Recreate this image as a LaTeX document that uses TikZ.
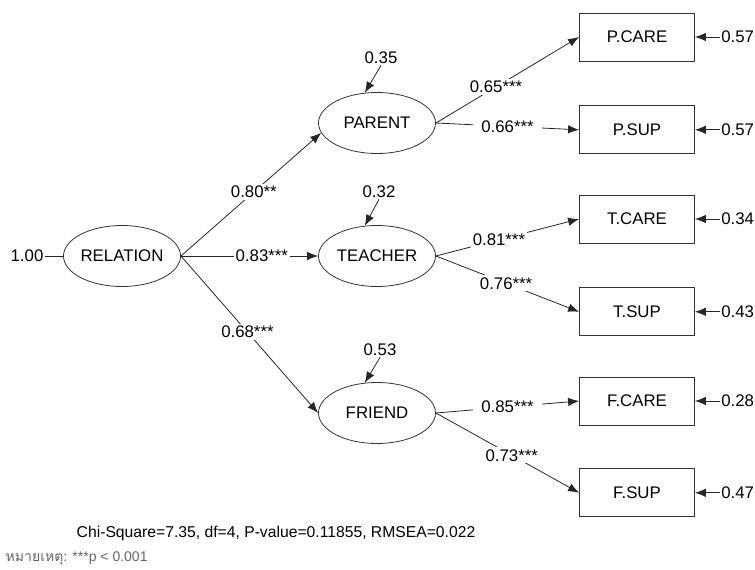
\documentclass[tikz,border=0pt]{standalone}
\usepackage{fontspec}
\setmainfont{Liberation Sans}
\newfontfamily\thaifont[Script=Thai]{Loma}
\usetikzlibrary{%
  arrows.meta,%
  shapes.geometric,% wg. ellipse
  positioning% wg. " of "
}

\begin{document}
\begin{tikzpicture}[x=1pt,y=-1pt,line width=0.8pt,font=\fontsize{16.8}{20}\selectfont]
       \tikzset{latent/.style={ellipse, minimum width=117pt, minimum height=61pt, inner sep=0pt, draw=black!80}}

       \tikzset{indicator/.style={rectangle, minimum width=115pt, minimum height=48pt, draw=black!80}}
        \tikzset{err/.style={inner sep=1pt}}
        \tikzset{coef/.style={fill=white, inner sep=2pt}}

        \tikzset{path/.style={-{Latex[length=11pt,width=8.5pt]}, draw=black!85}}

        \useasboundingbox (0,0) rectangle (755,570);

        \node[latent] (relation) at (122,256) {RELATION};
        \node[latent] (parent) at (377,123) {PARENT};
        \node[latent] (teacher) at (377,256) {TEACHER};
        \node[latent] (friend) at (377,413) {FRIEND};

        \node[indicator] (pcare) at (637,37) {P.CARE};
        \node[indicator, below=44pt of pcare] (psup) {P.SUP};
        \node[indicator] (tcare) at (637,219) {T.CARE};
        \node[indicator, below=44pt of tcare] (tsup) {T.SUP};
        \node[indicator] (fcare) at (637,401) {F.CARE};
        \node[indicator, below=43pt of fcare] (fsup) {F.SUP};

        % error terms
        \node[err] (erelation) at (27,256) {1.00};
        \node[err] (eparent) at (381,58) {0.35};
        \node[err] (eteacher) at (379,192) {0.32};
        \node[err] (efriend) at (380,350) {0.53};
        \node[err, right=25pt of pcare] (epcare) {0.57};
        \node[err, right=25pt of psup] (epsup) {0.57};
        \node[err, right=25pt of tcare] (etcare) {0.34};
        \node[err, right=25pt of tsup] (etsup) {0.43};
        \node[err, right=25pt of fcare] (efcare) {0.28};
        \node[err, right=25pt of fsup] (efsup) {0.47};

        \draw[draw=black!85] (erelation) -- (relation);
        \draw[path] (eparent.south) -- (parent.112);
        \draw[path] (eteacher.south) -- (teacher.112);
        \draw[path] (efriend.south) -- (friend.112);
        \draw[path] (epcare) -- (pcare);
        \draw[path] (epsup) -- (psup);
        \draw[path] (etcare) -- (tcare);
        \draw[path] (etsup) -- (tsup);
        \draw[path] (efcare) -- (fcare);
        \draw[path] (efsup) -- (fsup);

        \draw[path] (relation.east) -- (parent.190) node[coef, pos=.52] {0.80**};
        \draw[path] (relation.east) -- (teacher.west) node[coef, pos=.59] {0.83***};
        \draw[path] (relation.east) -- (friend.west) node[coef, pos=.485] {0.68***};

        \draw[path] (parent.east) -- (pcare.west) node[coef, pos=.42] {0.65***};
        \draw[path] (parent.east) -- (psup.west) node[coef, pos=.5, inner xsep=8pt] {0.66***};
        \draw[path] (teacher.east) -- (tcare.west) node[coef, pos=.44] {0.81***};
        \draw[path] (teacher.east) -- (tsup.west) node[coef, pos=.49] {0.76***};
        \draw[path] (friend.east) -- (fcare.west) node[coef, pos=.5, inner xsep=8pt] {0.85***};
        \draw[path] (friend.east) -- (fsup.west) node[coef, pos=.53] {0.73***};

        \node[anchor=west, font=\fontsize{15.7}{18}\selectfont] (fit) at (73,533) {Chi-Square=7.35, df=4, P-value=0.11855, RMSEA=0.022};
        \node[anchor=west, text=black!60, font=\fontsize{14}{16}\selectfont] (note) at (2,558) {{\thaifont หมายเหตุ}: ***p < 0.001};
   \end{tikzpicture}
\end{document}
